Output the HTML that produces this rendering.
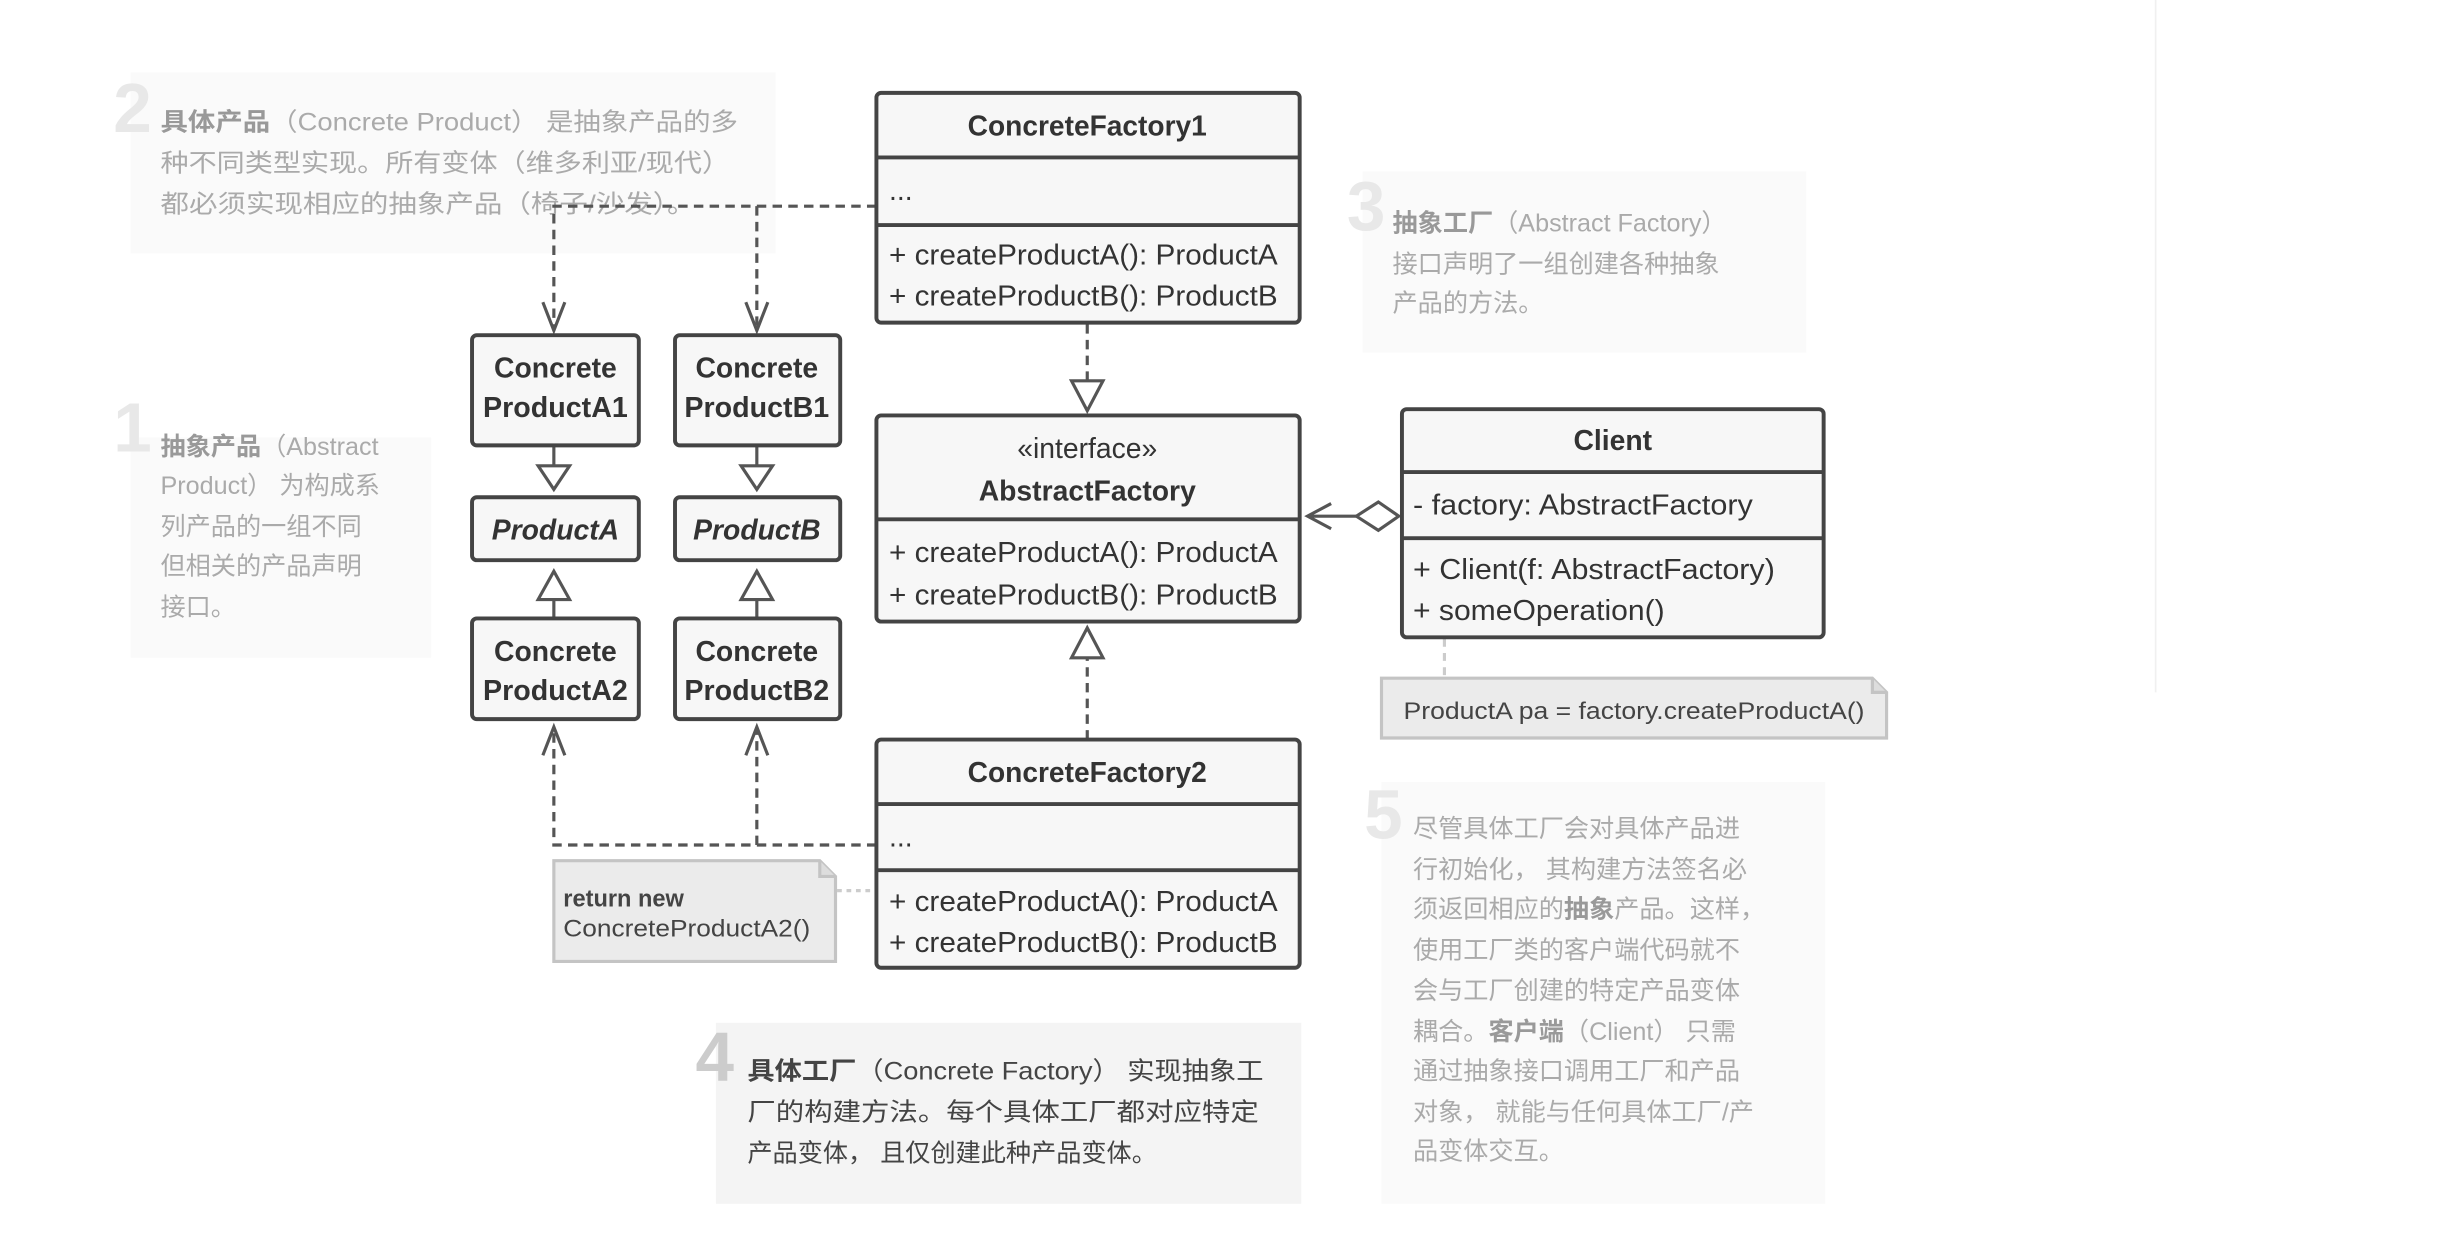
<!DOCTYPE html>
<html><head><meta charset="utf-8"><style>
html,body{margin:0;padding:0;background:#fff;}
svg{display:block;}
text{font-family:"Liberation Sans","Noto Sans CJK SC",sans-serif;}
</style></head><body>
<svg width="2442" height="1240" viewBox="0 0 1552 788" xmlns="http://www.w3.org/2000/svg">
<rect width="1552" height="788" fill="#fff"/>
<line x1="1370" y1="0" x2="1370" y2="440" stroke="#f0f0f0" stroke-width="1"/>

<!-- Note 2 -->
<rect x="83" y="46" width="410" height="115" fill="#fafafa"/>
<text x="72" y="84" font-size="44" font-weight="bold" fill="#e8e8e8">2</text>
<g font-size="16" fill="#aaa">
<text x="102" y="83" textLength="367" lengthAdjust="spacingAndGlyphs"><tspan font-weight="bold" fill="#999">具体产品</tspan>（Concrete Product） 是抽象产品的多</text>
<text x="102" y="109" textLength="362" lengthAdjust="spacingAndGlyphs">种不同类型实现。所有变体（维多利亚/现代）</text>
<text x="102" y="135" textLength="340" lengthAdjust="spacingAndGlyphs">都必须实现相应的抽象产品（椅子/沙发）。</text>
</g>

<!-- Note 1 -->
<rect x="83" y="278" width="191" height="140" fill="#fafafa"/>
<text x="72" y="287" font-size="44" font-weight="bold" fill="#e8e8e8">1</text>
<g font-size="16" fill="#aaa">
<text x="102" y="289"><tspan font-weight="bold" fill="#999">抽象产品</tspan>（Abstract</text>
<text x="102" y="314">Product） 为构成系</text>
<text x="102" y="340">列产品的一组不同</text>
<text x="102" y="365">但相关的产品声明</text>
<text x="102" y="391">接口。</text>
</g>

<!-- Note 3 -->
<rect x="866" y="109" width="282" height="115" fill="#fafafa"/>
<text x="856" y="146" font-size="44" font-weight="bold" fill="#e8e8e8">3</text>
<g font-size="16" fill="#aaa">
<text x="885" y="147"><tspan font-weight="bold" fill="#999">抽象工厂</tspan>（Abstract Factory）</text>
<text x="885" y="173">接口声明了一组创建各种抽象</text>
<text x="885" y="198">产品的方法。</text>
</g>

<!-- Note 5 -->
<rect x="878" y="497" width="282" height="268" fill="#fafafa"/>
<text x="867" y="533" font-size="44" font-weight="bold" fill="#e8e8e8">5</text>
<g font-size="16" fill="#aaa">
<text x="898" y="532">尽管具体工厂会对具体产品进</text>
<text x="898" y="558">行初始化， 其构建方法签名必</text>
<text x="898" y="583">须返回相应的<tspan font-weight="bold" fill="#999">抽象</tspan>产品。这样，</text>
<text x="898" y="609">使用工厂类的客户端代码就不</text>
<text x="898" y="635">会与工厂创建的特定产品变体</text>
<text x="898" y="661">耦合。<tspan font-weight="bold" fill="#999">客户端</tspan>（Client） 只需</text>
<text x="898" y="686">通过抽象接口调用工厂和产品</text>
<text x="898" y="712">对象， 就能与任何具体工厂/产</text>
<text x="898" y="737">品变体交互。</text>
</g>

<!-- Note 4 -->
<rect x="455" y="650" width="372" height="115" fill="#f4f4f4"/>
<text x="442" y="687" font-size="44" font-weight="bold" fill="#ccc">4</text>
<g font-size="16" fill="#444">
<text x="475" y="686" textLength="328" lengthAdjust="spacingAndGlyphs"><tspan font-weight="bold">具体工厂</tspan>（Concrete Factory） 实现抽象工</text>
<text x="475" y="712" textLength="325" lengthAdjust="spacingAndGlyphs">厂的构建方法。每个具体工厂都对应特定</text>
<text x="475" y="738">产品变体， 且仅创建此种产品变体。</text>
</g>

<!-- Connectors -->
<g stroke="#555" stroke-width="2" fill="none">
<path d="M557 131 H352 V210 M481 131 V210" stroke-dasharray="6,4"/>
<path d="M345 192 L352 210 L359 192 M474 192 L481 210 L488 192"/>
<path d="M557 537 H352 V462 M481 537 V462" stroke-dasharray="6,4"/>
<path d="M345 480 L352 462 L359 480 M474 480 L481 462 L488 480"/>
<path d="M691 206 V242 M691 470 V418" stroke-dasharray="6,4"/>
<path d="M352 283 V296 M481 283 V296 M352 393 V381 M481 393 V381"/>
<path d="M342 296 H362 L352 311 Z M471 296 H491 L481 311 Z M342 381 H362 L352 363 Z M471 381 H491 L481 363 Z" fill="#fff"/>
<path d="M681 242 H701 L691 261 Z M681 418 H701 L691 399 Z" fill="#fff"/>
<path d="M862 328 H831 M846 320 L831 328 L846 336"/>
<path d="M862 328 L876 319 L889 328 L876 337 Z" fill="#fff"/>
</g>
<line x1="918" y1="406" x2="918" y2="432" stroke="#ccc" stroke-width="2" stroke-dasharray="5,4"/>
<line x1="532" y1="566" x2="557" y2="566" stroke="#ccc" stroke-width="2" stroke-dasharray="3,3"/>

<!-- Boxes -->
<g stroke="#444" stroke-width="2.5" fill="#f7f7f7">
<rect x="557" y="59" width="269" height="146" rx="3"/>
<line x1="557" y1="100" x2="826" y2="100"/><line x1="557" y1="143" x2="826" y2="143"/>
<rect x="557" y="264" width="269" height="131" rx="3"/>
<line x1="557" y1="330" x2="826" y2="330"/>
<rect x="557" y="470" width="269" height="145" rx="3"/>
<line x1="557" y1="511" x2="826" y2="511"/><line x1="557" y1="553" x2="826" y2="553"/>
<rect x="891" y="260" width="268" height="145" rx="3"/>
<line x1="891" y1="300" x2="1159" y2="300"/><line x1="891" y1="342" x2="1159" y2="342"/>
<rect x="300" y="213" width="106" height="70" rx="3"/>
<rect x="429" y="213" width="105" height="70" rx="3"/>
<rect x="300" y="316" width="106" height="40" rx="3"/>
<rect x="429" y="316" width="105" height="40" rx="3"/>
<rect x="300" y="393" width="106" height="64" rx="3"/>
<rect x="429" y="393" width="105" height="64" rx="3"/>
</g>

<!-- Notes with folded corner -->
<g stroke="#c4c4c4" stroke-width="2" fill="#ebebeb">
<path d="M878 431 H1190 L1199 440 V469 H878 Z"/>
<path d="M1190 431 V440 H1199" fill="#ddd"/>
<path d="M352 547 H521 L531 557 V611 H352 Z"/>
<path d="M521 547 V557 H531" fill="#ddd"/>
</g>
<text x="892" y="457" font-size="15" fill="#444" textLength="293" lengthAdjust="spacingAndGlyphs">ProductA pa = factory.createProductA()</text>
<text x="358" y="576" font-size="15" font-weight="bold" fill="#444">return new</text>
<text x="358" y="595" font-size="15" fill="#444" textLength="157" lengthAdjust="spacingAndGlyphs">ConcreteProductA2()</text>

<!-- Box texts -->
<g font-size="18" fill="#333" text-anchor="middle" font-weight="bold">
<text x="691" y="86" textLength="152" lengthAdjust="spacingAndGlyphs">ConcreteFactory1</text>
<text x="691" y="318" textLength="138" lengthAdjust="spacingAndGlyphs">AbstractFactory</text>
<text x="691" y="497" textLength="152" lengthAdjust="spacingAndGlyphs">ConcreteFactory2</text>
<text x="1025" y="286">Client</text>
<text x="353" y="240">Concrete</text><text x="353" y="265" textLength="92" lengthAdjust="spacingAndGlyphs">ProductA1</text>
<text x="481" y="240">Concrete</text><text x="481" y="265" textLength="92" lengthAdjust="spacingAndGlyphs">ProductB1</text>
<text x="353" y="420">Concrete</text><text x="353" y="445" textLength="92" lengthAdjust="spacingAndGlyphs">ProductA2</text>
<text x="481" y="420">Concrete</text><text x="481" y="445" textLength="92" lengthAdjust="spacingAndGlyphs">ProductB2</text>
<text x="353" y="343" font-style="italic">ProductA</text>
<text x="481" y="343" font-style="italic">ProductB</text>
</g>
<text x="691" y="291" font-size="18" fill="#333" text-anchor="middle">«interface»</text>
<g font-size="18" fill="#333">
<text x="565" y="127">...</text>
<text x="565" y="168" textLength="247" lengthAdjust="spacingAndGlyphs">+ createProductA(): ProductA</text>
<text x="565" y="194" textLength="247" lengthAdjust="spacingAndGlyphs">+ createProductB(): ProductB</text>
<text x="565" y="357" textLength="247" lengthAdjust="spacingAndGlyphs">+ createProductA(): ProductA</text>
<text x="565" y="384" textLength="247" lengthAdjust="spacingAndGlyphs">+ createProductB(): ProductB</text>
<text x="565" y="538">...</text>
<text x="565" y="579" textLength="247" lengthAdjust="spacingAndGlyphs">+ createProductA(): ProductA</text>
<text x="565" y="605" textLength="247" lengthAdjust="spacingAndGlyphs">+ createProductB(): ProductB</text>
<text x="898" y="327" textLength="216" lengthAdjust="spacingAndGlyphs">- factory: AbstractFactory</text>
<text x="898" y="368" textLength="230" lengthAdjust="spacingAndGlyphs">+ Client(f: AbstractFactory)</text>
<text x="898" y="394" textLength="160" lengthAdjust="spacingAndGlyphs">+ someOperation()</text>
</g>
</svg>
</body></html>
